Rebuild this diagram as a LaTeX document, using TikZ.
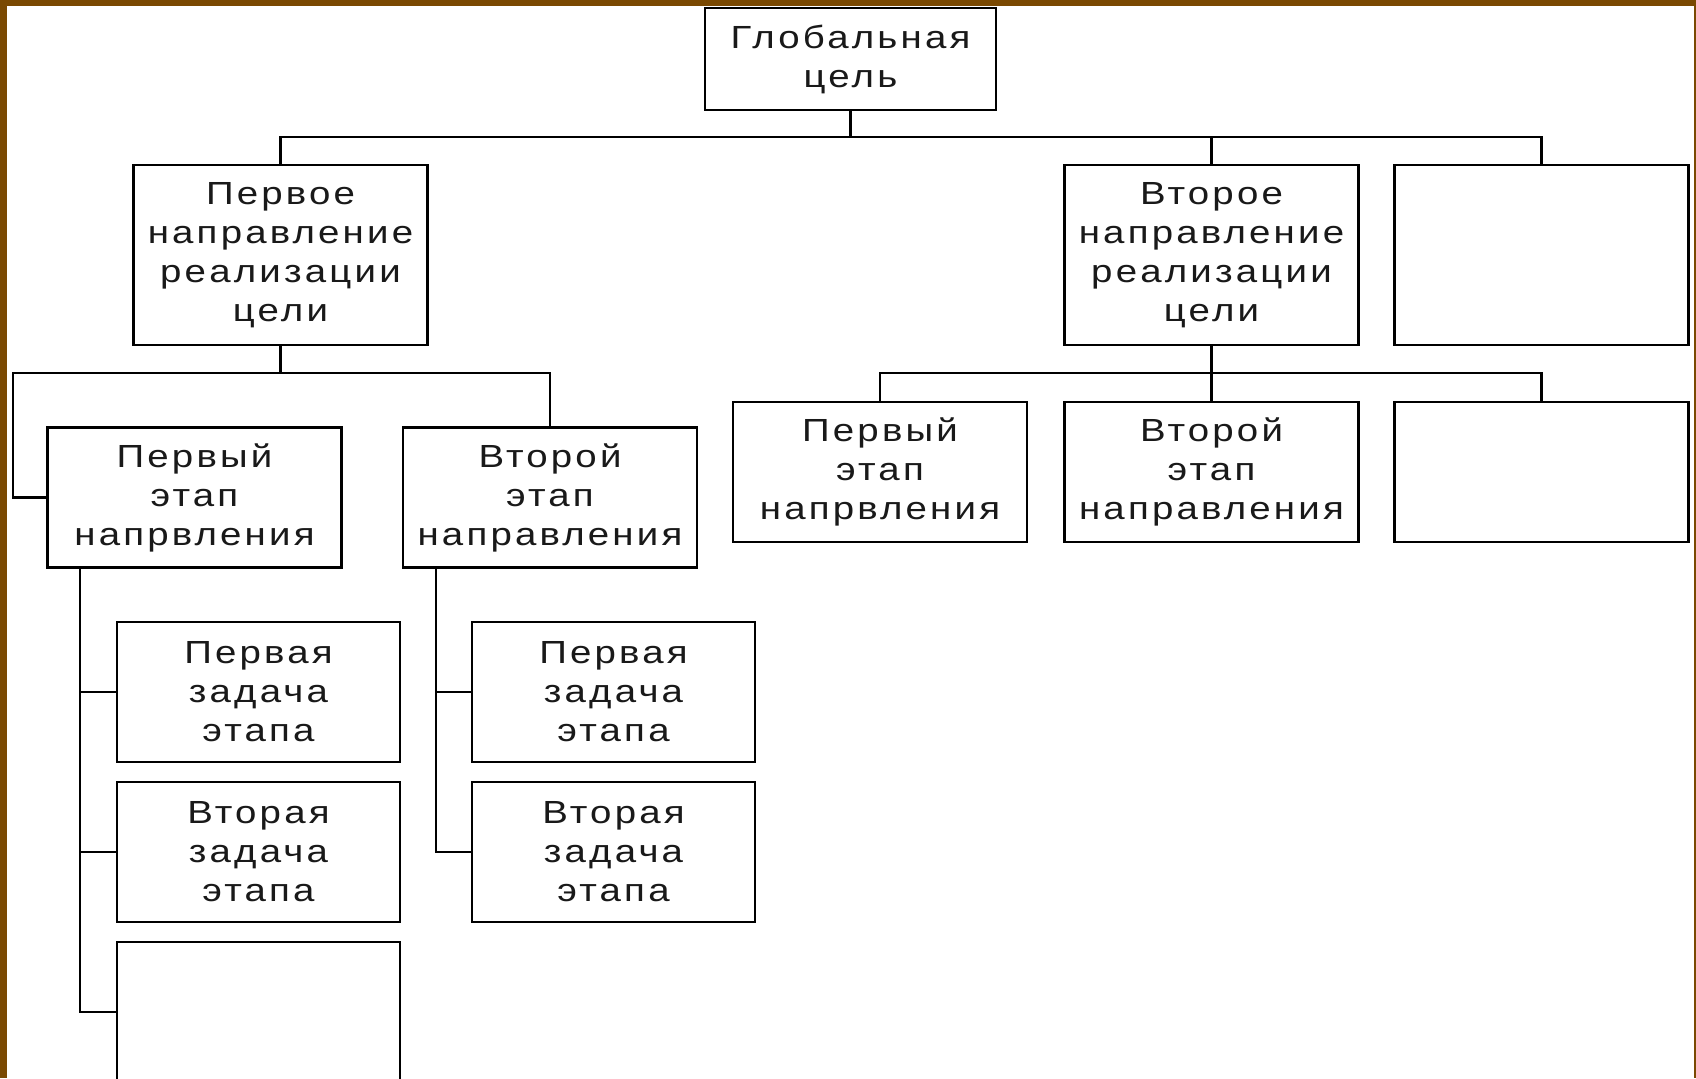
\documentclass[tikz,border=0pt]{standalone}
\usepackage{fontspec}
\setmainfont{Liberation Sans}[LetterSpace=10,FakeStretch=1.2]
\definecolor{frame}{RGB}{122,73,2}
\definecolor{ink}{RGB}{25,25,25}
\begin{document}
\begin{tikzpicture}[x=0.5pt,y=-0.5pt,
  box/.style={draw=black, line width=1.3pt, rectangle, inner sep=0pt, align=center,
    font=\fontsize{16}{19.5}\selectfont, text=ink},
  topbox/.style={box, minimum width=145.5pt, minimum height=51pt},
  dirbox/.style={box, minimum width=147pt, minimum height=90pt},
  stagebox/.style={box, minimum width=147pt, minimum height=70pt},
  taskbox/.style={box, minimum width=141.5pt, minimum height=70pt},
  conn/.style={draw=black, line width=1.15pt}]
\useasboundingbox (0,0) rectangle (1696,1078);
\clip (0,0) rectangle (1696,1078);
\fill[frame] (0,0) rectangle (1696,1078);
\fill[white] (7,6) rectangle (1694,1078);

% level 0
\node[topbox] (g) at (850.5,59) {Глобальная\\цель};
% level 1
\node[dirbox] (d1) at (280.5,255) {Первое\\направление\\реализации\\цели};
\node[dirbox] (d2) at (1211.5,255) {Второе\\направление\\реализации\\цели};
\node[dirbox] (d3) at (1541.5,255) {};
% level 2 left
\node[stagebox] (s1) at (194.5,497.5) {Первый\\этап\\напрвления};
\node[stagebox] (s2) at (550,497.5) {Второй\\этап\\направления};
% level 2 right
\node[stagebox] (r1) at (880,472) {Первый\\этап\\напрвления};
\node[stagebox] (r2) at (1211.5,472) {Второй\\этап\\направления};
\node[stagebox] (r3) at (1541.5,472) {};
% level 3
\node[taskbox] (t1) at (258.5,692) {Первая\\задача\\этапа};
\node[taskbox] (t2) at (258.5,852) {Вторая\\задача\\этапа};
\node[taskbox] (t3) at (258.5,1012) {};
\node[taskbox] (u1) at (613.5,692) {Первая\\задача\\этапа};
\node[taskbox] (u2) at (613.5,852) {Вторая\\задача\\этапа};

% connectors level 0 -> 1
\coordinate (b1) at (850.5,137);
\draw[conn] (g.south) -- (b1);
\draw[conn] (d1.north) |- (b1) -| (d3.north);
\draw[conn] (d2.north) -- (d2.north |- b1);

% connectors d1 -> stages
\coordinate (b2) at (280.5,373);
\coordinate (b2l) at (13,373);
\draw[conn] (d1.south) -- (b2);
\draw[conn] (s1.west) -| (b2l) -| (s2.north);

% connectors d2 -> stages
\coordinate (b3) at (1211.5,373);
\draw[conn] (d2.south) -- (r2.north);
\draw[conn] (r1.north) |- (b3) -| (r3.north);

% connectors stages -> tasks
\coordinate (v1) at ([xshift=17pt]s1.south west);
\draw[conn] (v1) |- (t3.west);
\draw[conn] (t1.west) -- (t1.west -| v1);
\draw[conn] (t2.west) -- (t2.west -| v1);
\coordinate (v2) at ([xshift=17pt]s2.south west);
\draw[conn] (v2) |- (u2.west);
\draw[conn] (u1.west) -- (u1.west -| v2);
\end{tikzpicture}
\end{document}
